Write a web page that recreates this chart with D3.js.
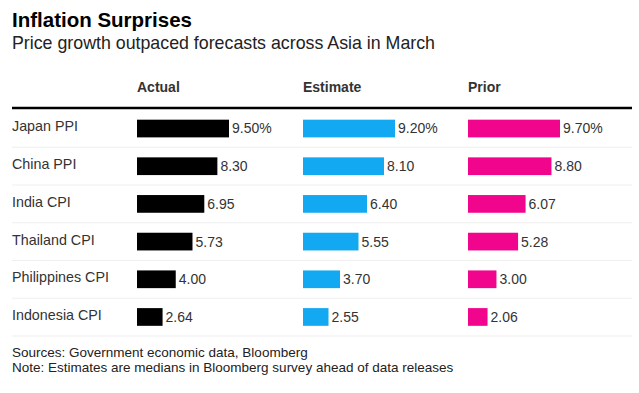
<!DOCTYPE html>
<html><head><meta charset="utf-8">
<script src="https://cdn.jsdelivr.net/npm/d3@7"></script>
<style>
body{margin:0;background:#fff;}
svg{display:block;font-family:"Liberation Sans",Arial,Helvetica,sans-serif;}
</style></head><body>
<svg id="c" width="639" height="393"></svg>
<script>
const categories = ["Japan PPI","China PPI","India CPI","Thailand CPI","Philippines CPI","Indonesia CPI"];
const seriesNames = ["Actual","Estimate","Prior"];
const actual   = [9.50, 8.30, 6.95, 5.73, 4.00, 2.64];
const estimate = [9.20, 8.10, 6.40, 5.55, 3.70, 2.55];
const prior    = [9.70, 8.80, 6.07, 5.28, 3.00, 2.06];
const valueLabels = [
  ["9.50%","8.30","6.95","5.73","4.00","2.64"],
  ["9.20%","8.10","6.40","5.55","3.70","2.55"],
  ["9.70%","8.80","6.07","5.28","3.00","2.06"]
];
const colors = ["#000000","#12a9f2","#f0058c"];
const series = [actual, estimate, prior];

const svg = d3.select("#c");
svg.append("rect").attr("width",639).attr("height",393).attr("fill","#fff");

svg.append("text").attr("x",12).attr("y",27).attr("font-size",20.5).attr("font-weight","bold")
  .attr("fill","#000").text("Inflation Surprises");
svg.append("text").attr("x",12).attr("y",49).attr("font-size",17.8).attr("fill","#222")
  .text("Price growth outpaced forecasts across Asia in March");

const y = d3.scaleBand().domain(categories).range([109.5, 336]).paddingInner(0.53).paddingOuter(0.27);
const rowY = d3.scaleBand().domain(categories).range([109.5, 336]);
const colX = d3.scaleOrdinal().domain(seriesNames).range([137, 303, 468]);

// row separators
svg.selectAll("line.sep").data(categories).join("line")
  .attr("x1",12).attr("x2",632)
  .attr("y1",d=>rowY(d)+rowY.bandwidth()).attr("y2",d=>rowY(d)+rowY.bandwidth())
  .attr("stroke","#efefef").attr("stroke-width",1);

// header line
svg.append("line").attr("x1",12).attr("x2",632).attr("y1",108).attr("y2",108)
  .attr("stroke","#000").attr("stroke-width",2.5);

// column headers
svg.selectAll("text.hdr").data(seriesNames).join("text")
  .attr("x",d=>colX(d)).attr("y",92).attr("font-size",14).attr("font-weight","bold")
  .attr("fill","#333").text(d=>d);

// row labels
svg.selectAll("text.cat").data(categories).join("text")
  .attr("x",12).attr("y",d=>rowY(d)+rowY.bandwidth()/2 - 2).attr("dy","0.35em")
  .attr("font-size",14.3).attr("fill","#333").text(d=>d);

series.forEach((vals,i)=>{
  const x = d3.scaleLinear().domain([0, d3.max(vals)]).range([0, 92]);
  const g = svg.append("g").attr("transform",`translate(${colX(seriesNames[i])},0)`);
  g.selectAll("rect").data(vals).join("rect")
    .attr("x",0).attr("y",(d,j)=>y(categories[j]))
    .attr("width",d=>x(d)).attr("height",y.bandwidth())
    .attr("fill",colors[i]);
  g.selectAll("text").data(vals).join("text")
    .attr("x",d=>x(d)+3).attr("y",(d,j)=>rowY(categories[j])+rowY.bandwidth()/2).attr("dy","0.35em")
    .attr("font-size",14).attr("fill","#333").text((d,j)=>valueLabels[i][j]);
});

svg.append("text").attr("x",12).attr("y",357).attr("font-size",13.5).attr("fill","#222")
  .text("Sources: Government economic data, Bloomberg");
svg.append("text").attr("x",12).attr("y",372).attr("font-size",13.5).attr("fill","#222")
  .text("Note: Estimates are medians in Bloomberg survey ahead of data releases");
</script></body></html>
